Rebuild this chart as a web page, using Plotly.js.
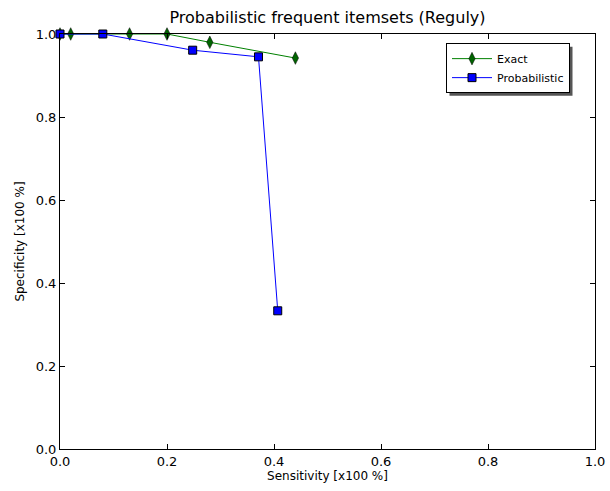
<!DOCTYPE html>
<html>
<head>
<meta charset="utf-8">
<script src="https://cdn.plot.ly/plotly-3.0.1.min.js"></script>
<style>html,body{margin:0;padding:0;background:#fff;}#chart{width:610px;height:491px;}</style>
</head>
<body>
<div id="chart"></div>
<script>
const exactX = [0.0, 0.02, 0.13, 0.20, 0.28, 0.44];
const exactY = [1.0, 1.0, 1.0, 1.0, 0.98, 0.942];
const probX = [0.0, 0.08, 0.248, 0.371, 0.407];
const probY = [1.0, 1.0, 0.961, 0.945, 0.333];
const xTicks = [0.0, 0.2, 0.4, 0.6, 0.8, 1.0];
const yTicks = [0.0, 0.2, 0.4, 0.6, 0.8, 1.0];

const font = 'DejaVu Sans, sans-serif';
const traces = [
  {x: exactX, y: exactY, name: 'Exact', mode: 'lines+markers', cliponaxis: false,
   line: {color: '#008000', width: 1},
   marker: {symbol: 'diamond-tall', size: 9, color: '#006400', line: {color: '#000', width: 0.5}}},
  {x: probX, y: probY, name: 'Probabilistic', mode: 'lines+markers', cliponaxis: false,
   line: {color: '#0000ff', width: 1},
   marker: {symbol: 'square', size: 8, color: '#0000ff', line: {color: '#000', width: 1}}}
];
const axisCommon = {
  range: [0, 1], showgrid: false, zeroline: false, showline: true, linecolor: '#000', linewidth: 1,
  mirror: 'ticks', ticks: 'inside', ticklen: 5, tickcolor: '#000', tickwidth: 1,
  tickfont: {family: font, size: 13, color: '#000'}
};
const layout = {
  width: 610, height: 491,
  margin: {l: 60, r: 15, t: 34, b: 42},
  paper_bgcolor: '#fff', plot_bgcolor: '#fff',
  title: {text: 'Probabilistic frequent itemsets (Reguly)', font: {family: font, size: 16, color: '#000'},
          xref: 'paper', x: 0.5, xanchor: 'center', y: 0.965, yanchor: 'middle'},
  xaxis: Object.assign({}, axisCommon, {tickvals: xTicks, ticktext: xTicks.map(v => v.toFixed(1)),
          title: {text: 'Sensitivity [x100 %]', font: {family: font, size: 12, color: '#000'}, standoff: 2}}),
  yaxis: Object.assign({}, axisCommon, {tickvals: yTicks, ticktext: yTicks.map(v => v.toFixed(1)),
          title: {text: 'Specificity [x100 %]', font: {family: font, size: 12, color: '#000'}, standoff: 8}}),
  showlegend: true,
  legend: {x: 0.7215, y: 0.978, xanchor: 'left', yanchor: 'top', bgcolor: '#fff', bordercolor: '#000', borderwidth: 1,
           font: {family: font, size: 11, color: '#000'}, tracegroupgap: 0, itemwidth: 40,
           entrywidth: 137, entrywidthmode: 'pixels'}
};
Plotly.newPlot('chart', traces, layout, {displayModeBar: false, staticPlot: true}).then(gd => {
  const bg = gd.querySelector('.legend .bg');
  if (!bg) return;
  const lb = bg.getBoundingClientRect();
  const gb = gd.getBoundingClientRect();
  const off = gd._fullLayout._size;
  const left = lb.left - gb.left, top = lb.top - gb.top;
  const toX = px => (px - off.l) / off.w;
  const toY = py => 1 - (py - off.t) / off.h;
  Plotly.relayout(gd, {shapes: [{type: 'rect', xref: 'paper', yref: 'paper',
    x0: toX(left + 3), x1: toX(left + lb.width + 3), y0: toY(top + lb.height + 3), y1: toY(top + 3),
    fillcolor: '#555', line: {width: 0}, layer: 'above'}]});
});
</script>
</body>
</html>
